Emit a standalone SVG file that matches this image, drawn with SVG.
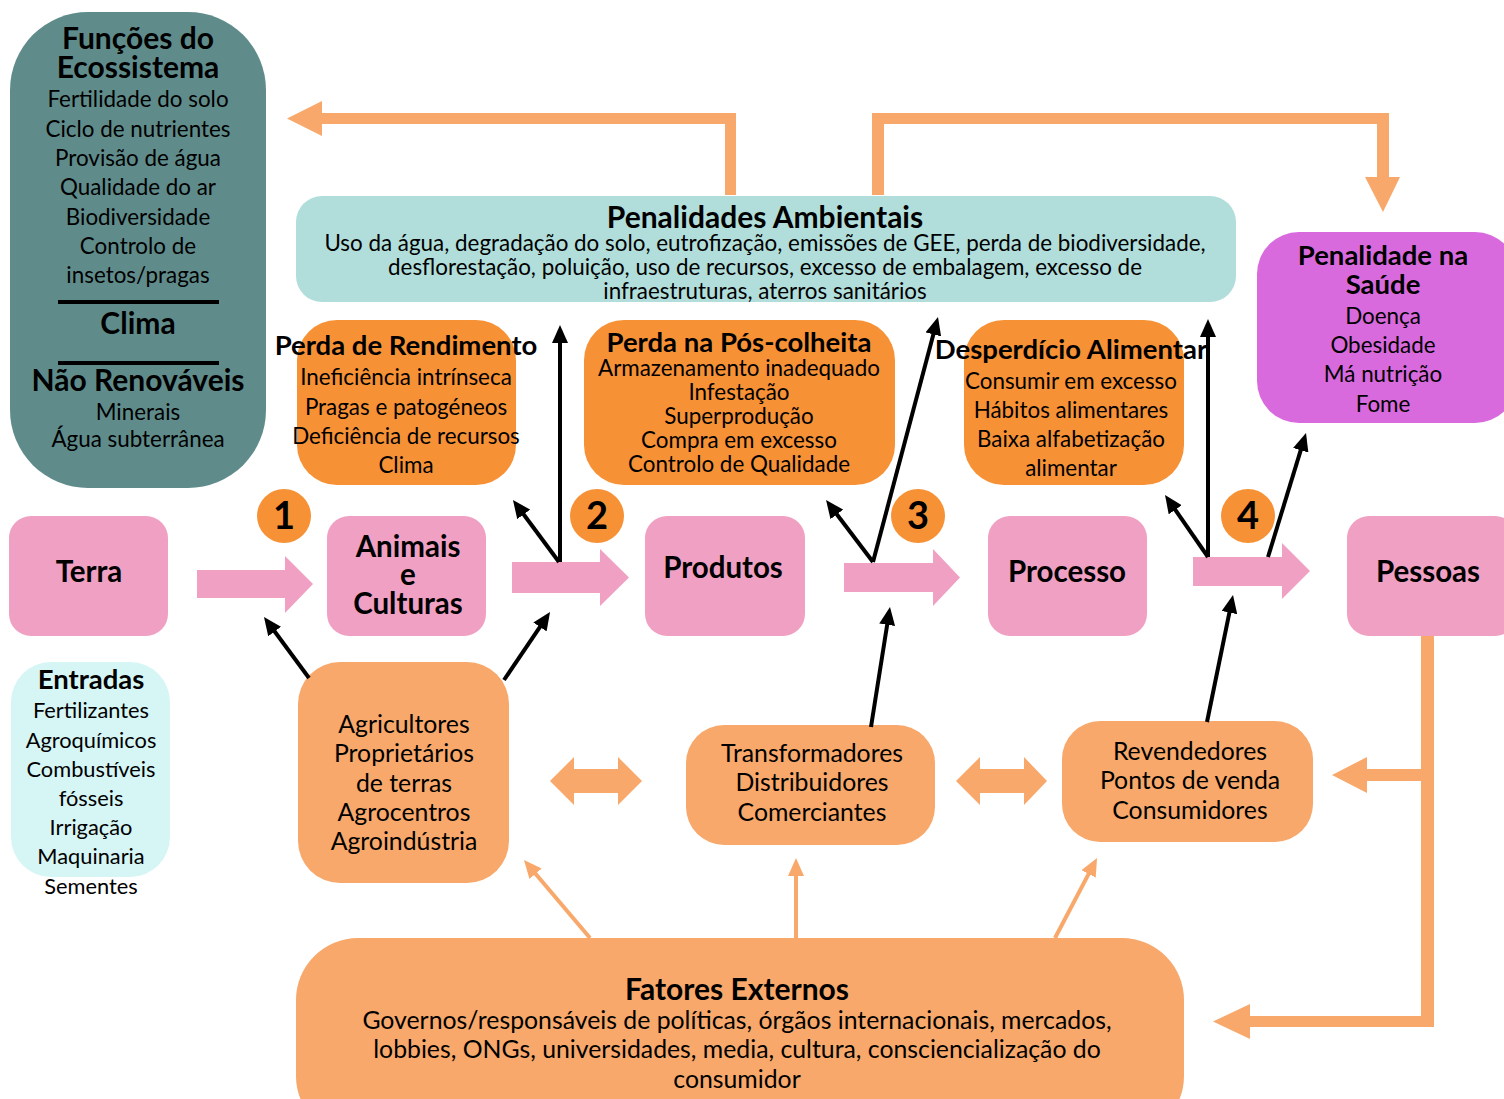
<svg xmlns="http://www.w3.org/2000/svg" width="1504" height="1099" viewBox="0 0 1504 1099">
<defs>
<style>
.t{font-family:Lato,"Open Sans","Liberation Sans",sans-serif;text-anchor:middle;fill:#000}
.b{font-weight:700}
.r{font-size:22.4px}
.rb{font-size:24.8px}
.re{font-size:21.8px}
.h{font-size:27.5px}
.hx{font-size:30px}
.n{font-size:29.5px}
.num{font-size:38px;font-weight:700}
.blk{stroke:#000;stroke-width:4;fill:none;marker-end:url(#ah)}
.org{stroke:#F8A86B;stroke-width:4;fill:none;marker-end:url(#ao)}
.ofill{fill:#F8A86B}
.pfill{fill:#F0A1C3}
.pink{fill:#F0A1C3}
.dorg{fill:#F79136}
.lorg{fill:#F7A86A}
</style>
<marker id="ah" markerWidth="18" markerHeight="16" refX="4" refY="8" orient="auto" markerUnits="userSpaceOnUse"><path d="M0,0 L18,8 L0,16 z" fill="#000"/></marker>
<marker id="ao" markerWidth="18" markerHeight="16" refX="4" refY="8" orient="auto" markerUnits="userSpaceOnUse"><path d="M0,0 L18,8 L0,16 z" fill="#F8A86B"/></marker>
</defs>
<rect width="1504" height="1099" fill="#fff"/>

<g id="ecossistema">
<rect x="10" y="12" width="256" height="476" rx="78" fill="#5F8C8B"/>
<text class="t b hx" x="138" y="49">Funções do</text>
<text class="t b hx" x="138" y="78">Ecossistema</text>
<text class="t r" x="138" y="107">Fertilidade do solo</text>
<text class="t r" x="138" y="137">Ciclo de nutrientes</text>
<text class="t r" x="138" y="166">Provisão de água</text>
<text class="t r" x="138" y="195">Qualidade do ar</text>
<text class="t r" x="138" y="225">Biodiversidade</text>
<text class="t r" x="138" y="254">Controlo de</text>
<text class="t r" x="138" y="283">insetos/pragas</text>
<line x1="58" y1="302" x2="219" y2="302" stroke="#000" stroke-width="4"/>
<text class="t b hx" x="138" y="334">Clima</text>
<line x1="58" y1="363" x2="219" y2="363" stroke="#000" stroke-width="4"/>
<text class="t b hx" x="138" y="391">Não Renováveis</text>
<text class="t r" x="138" y="420">Minerais</text>
<text class="t r" x="138" y="447">Água subterrânea</text>
</g>

<g id="penalidades-ambientais">
<rect x="296" y="196" width="940" height="106" rx="26" fill="#B1DEDB"/>
<text class="t b hx" x="765" y="228">Penalidades Ambientais</text>
<text class="t r" x="765" y="251">Uso da água, degradação do solo, eutrofização, emissões de GEE, perda de biodiversidade,</text>
<text class="t r" x="765" y="275">desflorestação, poluição, uso de recursos, excesso de embalagem, excesso de</text>
<text class="t r" x="765" y="299">infraestruturas, aterros sanitários</text>
</g>

<g id="penalidade-saude">
<rect x="1257" y="232" width="260" height="191" rx="42" fill="#D96ADE"/>
<text class="t b h" x="1383" y="265">Penalidade na</text>
<text class="t b h" x="1383" y="294">Saúde</text>
<text class="t r" x="1383" y="324">Doença</text>
<text class="t r" x="1383" y="353">Obesidade</text>
<text class="t r" x="1383" y="382">Má nutrição</text>
<text class="t r" x="1383" y="412">Fome</text>
</g>

<g id="perda-rendimento">
<rect x="297" y="320" width="219" height="165" rx="40" class="dorg"/>
<text class="t b h" x="406" y="355">Perda de Rendimento</text>
<text class="t r" x="406" y="385">Ineficiência intrínseca</text>
<text class="t r" x="406" y="415">Pragas e patogéneos</text>
<text class="t r" x="406" y="444">Deficiência de recursos</text>
<text class="t r" x="406" y="473">Clima</text>
</g>

<g id="perda-pos-colheita">
<rect x="584" y="320" width="311" height="165" rx="40" class="dorg"/>
<text class="t b h" x="739" y="352">Perda na Pós-colheita</text>
<text class="t r" x="739" y="376">Armazenamento inadequado</text>
<text class="t r" x="739" y="400">Infestação</text>
<text class="t r" x="739" y="424">Superprodução</text>
<text class="t r" x="739" y="448">Compra em excesso</text>
<text class="t r" x="739" y="472">Controlo de Qualidade</text>
</g>

<g id="desperdicio-alimentar">
<rect x="964" y="320" width="220" height="165" rx="40" class="dorg"/>
<text class="t b h" x="1071" y="359">Desperdício Alimentar</text>
<text class="t r" x="1071" y="389">Consumir em excesso</text>
<text class="t r" x="1071" y="418">Hábitos alimentares</text>
<text class="t r" x="1071" y="447">Baixa alfabetização</text>
<text class="t r" x="1071" y="476">alimentar</text>
</g>

<g id="n1"><circle cx="284" cy="516" r="27" class="dorg"/><text class="t num" x="284" y="529">1</text></g>
<g id="n2"><circle cx="597" cy="516" r="27" class="dorg"/><text class="t num" x="597" y="529">2</text></g>
<g id="n3"><circle cx="918" cy="516" r="27" class="dorg"/><text class="t num" x="918" y="529">3</text></g>
<g id="n4"><circle cx="1248" cy="516" r="27" class="dorg"/><text class="t num" x="1248" y="529">4</text></g>

<g id="terra"><rect x="9" y="516" width="159" height="120" rx="22" class="pink"/><text class="t b n" x="89" y="582">Terra</text></g>
<g id="animais-culturas"><rect x="327" y="516" width="159" height="120" rx="22" class="pink"/>
<text class="t b n" x="408" y="557">Animais</text><text class="t b n" x="408" y="585">e</text><text class="t b n" x="408" y="614">Culturas</text></g>
<g id="produtos"><rect x="645" y="516" width="160" height="120" rx="22" class="pink"/><text class="t b n" x="723" y="578">Produtos</text></g>
<g id="processo"><rect x="988" y="516" width="159" height="120" rx="22" class="pink"/><text class="t b n" x="1067" y="582">Processo</text></g>
<g id="pessoas"><rect x="1347" y="516" width="170" height="120" rx="22" class="pink"/><text class="t b n" x="1428" y="582">Pessoas</text></g>

<g id="entradas">
<rect x="11" y="662" width="159" height="215" rx="40" fill="#D6F6F6"/>
<text class="t b h" x="91" y="689">Entradas</text>
<text class="t re" x="91" y="718">Fertilizantes</text>
<text class="t re" x="91" y="748">Agroquímicos</text>
<text class="t re" x="91" y="777">Combustíveis</text>
<text class="t re" x="91" y="806">fósseis</text>
<text class="t re" x="91" y="835">Irrigação</text>
<text class="t re" x="91" y="864">Maquinaria</text>
<text class="t re" x="91" y="894">Sementes</text>
</g>

<g id="agricultores">
<rect x="298" y="662" width="211" height="221" rx="42" class="lorg"/>
<text class="t rb" x="404" y="733">Agricultores</text>
<text class="t rb" x="404" y="762">Proprietários</text>
<text class="t rb" x="404" y="792">de terras</text>
<text class="t rb" x="404" y="821">Agrocentros</text>
<text class="t rb" x="404" y="850">Agroindústria</text>
</g>

<g id="transformadores">
<rect x="686" y="725" width="249" height="120" rx="38" class="lorg"/>
<text class="t rb" x="812" y="762">Transformadores</text>
<text class="t rb" x="812" y="791">Distribuidores</text>
<text class="t rb" x="812" y="821">Comerciantes</text>
</g>

<g id="revendedores">
<rect x="1062" y="721" width="251" height="121" rx="38" class="lorg"/>
<text class="t rb" x="1190" y="760">Revendedores</text>
<text class="t rb" x="1190" y="789">Pontos de venda</text>
<text class="t rb" x="1190" y="819">Consumidores</text>
</g>

<g id="fatores-externos">
<rect x="296" y="938" width="888" height="200" rx="62" class="lorg"/>
<text class="t b hx" x="737" y="1000">Fatores Externos</text>
<text class="t rb" x="737" y="1029">Governos/responsáveis de políticas, órgãos internacionais, mercados,</text>
<text class="t rb" x="737" y="1058">lobbies, ONGs, universidades, media, cultura, consciencialização do</text>
<text class="t rb" x="737" y="1088">consumidor</text>
</g>

<g id="connectors">
<path class="ofill" d="M736,195 L736,113 L322,113 L322,101 L287,118.5 L322,136 L322,124 L725,124 L725,195 Z"/>
<path class="ofill" d="M872,195 L872,113 L1389,113 L1389,177 L1400,177 L1383,212 L1365,177 L1377,177 L1377,124 L884,124 L884,195 Z"/>
<path class="ofill" d="M1421,636 L1434,636 L1434,1027 L1250,1027 L1250,1039 L1213,1021.5 L1250,1004 L1250,1016 L1421,1016 L1421,781 L1367,781 L1367,793 L1332,775 L1367,757 L1367,769 L1421,769 Z"/>
<polygon class="ofill" points="550,781 574,757 574,769 618,769 618,757 642,781 618,805 618,793 574,793 574,805"/>
<polygon class="ofill" points="956,781 980,757 980,769 1024,769 1024,757 1047,781 1024,805 1024,793 980,793 980,805"/>
<polygon class="pfill" points="197,570 285,570 285,556 313,584 285,613 285,598 197,598"/>
<polygon class="pfill" points="512,562 600,562 600,549 629,577.5 600,606 600,593 512,593"/>
<polygon class="pfill" points="844,563 933,563 933,549 960,577.5 933,606 933,592 844,592"/>
<polygon class="pfill" points="1193,557 1282,557 1282,543 1310,571 1282,599 1282,586 1193,586"/>
<line class="blk" x1="309" y1="678" x2="272.3" y2="628.3"/>
<line class="blk" x1="504" y1="680" x2="542.2" y2="623.6"/>
<line class="blk" x1="559" y1="562" x2="521.3" y2="511.2"/>
<line class="blk" x1="560" y1="562" x2="560" y2="339"/>
<line class="blk" x1="873" y1="562" x2="834.5" y2="511.2"/>
<line class="blk" x1="873" y1="562" x2="934.4" y2="330.5"/>
<line class="blk" x1="871" y1="727" x2="887.8" y2="620.8"/>
<line class="blk" x1="1208" y1="557" x2="1173" y2="506.5"/>
<line class="blk" x1="1208" y1="557" x2="1208" y2="333"/>
<line class="blk" x1="1268" y1="557" x2="1301.9" y2="446.4"/>
<line class="blk" x1="1207" y1="722" x2="1230.2" y2="608.7"/>
<line class="org" x1="590" y1="938" x2="533" y2="870.7"/>
<line class="org" x1="796" y1="938" x2="796" y2="872"/>
<line class="org" x1="1055" y1="938" x2="1090.5" y2="870.4"/>
</g>
</svg>
